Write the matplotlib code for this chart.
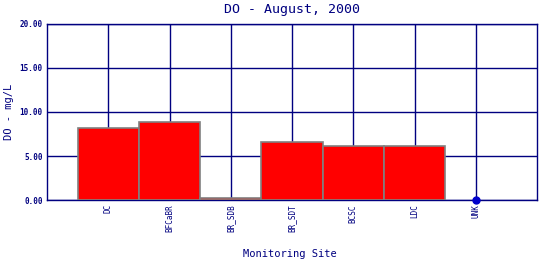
import matplotlib
matplotlib.use("Agg")
import matplotlib.pyplot as plt

sites = ["DC", "BFCaBR", "BR_SDB", "BR_SDT", "BCSC", "LDC", "UNK"]
do_vals = [8.15, 8.83, 0.2, 6.55, 6.1, 6.1, 0.0]
missing = ["UNK"]  # no sample, drawn as a dot on the baseline
yticks = [0, 5, 10, 15, 20]

navy = "#000080"
plt.rcParams["font.family"] = ["DejaVu Sans Mono"]

W, H = 540, 260
fig = plt.figure(figsize=(5.4, 2.6), dpi=100)
ax = fig.add_axes([47 / W, 60 / H, 490 / W, 176 / H])

xs = list(range(1, len(sites) + 1))
bar_x = [x for x, s in zip(xs, sites) if s not in missing]
bar_v = [v for v, s in zip(do_vals, sites) if s not in missing]
ax.bar(bar_x, bar_v, width=1.0, color="#ff0000", edgecolor="#808080",
       linewidth=1.2, zorder=3)
dot_x = [x for x, s in zip(xs, sites) if s in missing]
dot_v = [v for v, s in zip(do_vals, sites) if s in missing]
ax.plot(dot_x, dot_v, "o", color="#0000cc", markersize=5, zorder=4, clip_on=False)

ax.set_xlim(0, len(sites) + 1)
ax.set_ylim(0, 20)
ax.set_xticks(xs)
ax.set_xticklabels(sites, rotation=90, fontsize=5.5, color=navy)
ax.set_yticks(yticks)
ax.set_yticklabels([f"{v:.2f}" for v in yticks], fontsize=5.5, color=navy,
                   fontweight="bold")
ax.tick_params(length=0, pad=3)
ax.grid(True, color=navy, linewidth=1.0, zorder=0)
ax.set_axisbelow(True)
for sp in ax.spines.values():
    sp.set_color(navy)
    sp.set_linewidth(1.0)

# titles placed in figure pixels to sit where the reference has them
fig.text(292 / W, 1 - 9 / H, "DO - August, 2000", color=navy, fontsize=9.5,
         ha="center", va="center")
fig.text(9 / W, 1 - 112 / H, "DO - mg/L", color=navy, fontsize=7.5,
         rotation=90, ha="center", va="center")
fig.text(290 / W, 1 - 254 / H, "Monitoring Site", color=navy, fontsize=7.5,
         ha="center", va="center")

fig.savefig("out.png", dpi=100)
